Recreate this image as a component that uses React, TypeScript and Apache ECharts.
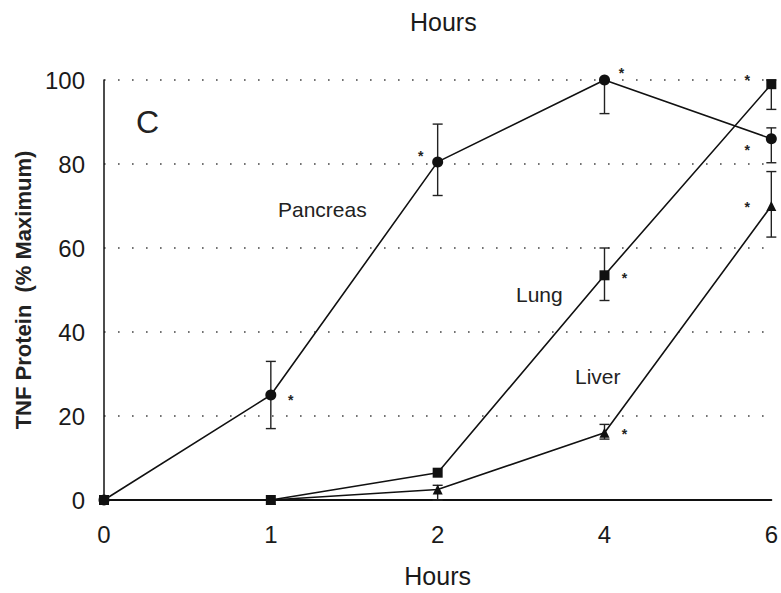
import React, { useEffect, useRef } from "react";
import * as echarts from "echarts";

const hours = ["0", "1", "2", "4", "6"];
const pancreas = [0, 25, 80.5, 100, 86];
const lung = [0, 0, 6.5, 53.5, 99];
const liver = [0, 0, 2.5, 16, 70];

// error bars [low, high] per point
const pancreasErr: (number[] | null)[] = [null, [17, 33], [72.5, 89.5], [92, 100], [80.3, 88.6]];
const lungErr: (number[] | null)[] = [null, null, null, [47.5, 60], [93, 100]];
const liverErr: (number[] | null)[] = [null, null, [0, 3.5], [14.5, 18], [62.6, 78.2]];

// significance markers
const pancreasSig = [false, true, true, true, true];
const lungSig = [false, false, false, true, true];
const liverSig = [false, false, false, true, true];

const yTicks = [0, 20, 40, 60, 80, 100];

const font = "'Liberation Sans', Arial, sans-serif";

export default function App() {
  const ref = useRef<HTMLDivElement>(null);
  useEffect(() => {
    if (!ref.current) return;
    const chart = echarts.init(ref.current, null, { renderer: "svg" });

    const starOffsets: Record<string, number[][]> = {
      pancreas: [[0, 0], [20, 5], [-17, -6], [17, -7], [-24, 11]],
      lung: [[0, 0], [0, 0], [0, 0], [20, 3], [-24, -4]],
      liver: [[0, 0], [0, 0], [0, 0], [20, 1], [-24, 1]],
    };

    const mkLine = (name: string, key: string, vals: number[], sig: boolean[], symbol: string, size: number) => ({
      name,
      type: "line",
      data: vals.map((v, i) =>
        sig[i]
          ? {
              value: v,
              label: {
                show: true,
                formatter: "*",
                position: "inside",
                offset: starOffsets[key][i],
                fontSize: 14,
                fontWeight: "bold",
                color: "#222",
                fontFamily: font,
              },
            }
          : v
      ),
      symbol,
      symbolSize: size,
      showSymbol: true,
      lineStyle: { color: "#111", width: 1.6 },
      itemStyle: { color: "#111" },
      z: 3,
    });

    const mkErr = (err: (number[] | null)[]) => ({
      type: "custom",
      data: err
        .map((e, i) => (e ? [i, e[0], e[1]] : null))
        .filter((d) => d !== null),
      renderItem: (params: any, api: any) => {
        const x = api.value(0);
        const lo = api.coord([x, api.value(1)]);
        const hi = api.coord([x, api.value(2)]);
        const w = 5;
        const style = { stroke: "#222", lineWidth: 1.4 };
        return {
          type: "group",
          children: [
            { type: "line", shape: { x1: lo[0], y1: lo[1], x2: hi[0], y2: hi[1] }, style },
            { type: "line", shape: { x1: lo[0] - w, y1: lo[1], x2: lo[0] + w, y2: lo[1] }, style },
            { type: "line", shape: { x1: hi[0] - w, y1: hi[1], x2: hi[0] + w, y2: hi[1] }, style },
          ],
        };
      },
      z: 2,
    });

    chart.setOption({
      animation: false,
      backgroundColor: "#fff",
      title: {
        text: "Hours",
        left: 405,
        top: 4,
        textStyle: { fontFamily: font, fontSize: 25, fontWeight: "normal", color: "#1a1a1a" },
      },
      grid: { left: 104, right: 5, top: 80, bottom: 91 },
      xAxis: {
        type: "category",
        data: hours,
        boundaryGap: false,
        name: "Hours",
        nameLocation: "middle",
        nameGap: 63,
        nameTextStyle: { fontFamily: font, fontSize: 25, color: "#1a1a1a" },
        axisLine: { lineStyle: { color: "#111", width: 2 } },
        axisTick: { show: false },
        axisLabel: { margin: 22, fontFamily: font, fontSize: 24, color: "#1a1a1a" },
        splitLine: { show: false },
      },
      yAxis: {
        type: "value",
        min: 0,
        max: 100,
        interval: 20,
        name: "TNF Protein  (% Maximum)",
        nameLocation: "middle",
        nameGap: 69,
        nameTextStyle: { fontFamily: font, fontSize: 22, fontWeight: "bold", color: "#222" },
        axisLine: { show: true, lineStyle: { color: "#111", width: 1.5 } },
        axisTick: { show: false },
        axisLabel: {
          margin: 19,
          fontFamily: font,
          fontSize: 24,
          color: "#1a1a1a",
          formatter: (v: number) => (yTicks.includes(v) ? String(v) : ""),
        },
        splitLine: {
          show: true,
          lineStyle: { color: "#444", width: 1.6, type: [1.6, 12.4] },
        },
      },
      graphic: [
        { type: "text", left: 136, top: 106, style: { text: "C", fontFamily: font, fontSize: 32, fill: "#222" } },
        { type: "text", left: 278, top: 199, style: { text: "Pancreas", fontFamily: font, fontSize: 21, fill: "#222" } },
        { type: "text", left: 516, top: 284, style: { text: "Lung", fontFamily: font, fontSize: 21, fill: "#222" } },
        { type: "text", left: 575, top: 366, style: { text: "Liver", fontFamily: font, fontSize: 21, fill: "#222" } },
      ],
      series: [
        mkErr(pancreasErr),
        mkErr(lungErr),
        mkErr(liverErr),
        mkLine("Pancreas", "pancreas", pancreas, pancreasSig, "circle", 11),
        mkLine("Lung", "lung", lung, lungSig, "rect", 10),
        mkLine("Liver", "liver", liver, liverSig, "triangle", 10),
      ],
    });
    return () => chart.dispose();
  }, []);
  return (
    <div
      ref={ref}
      style={{ position: "fixed", left: 0, top: 0, width: 781, height: 593, background: "#fff" }}
    />
  );
}
